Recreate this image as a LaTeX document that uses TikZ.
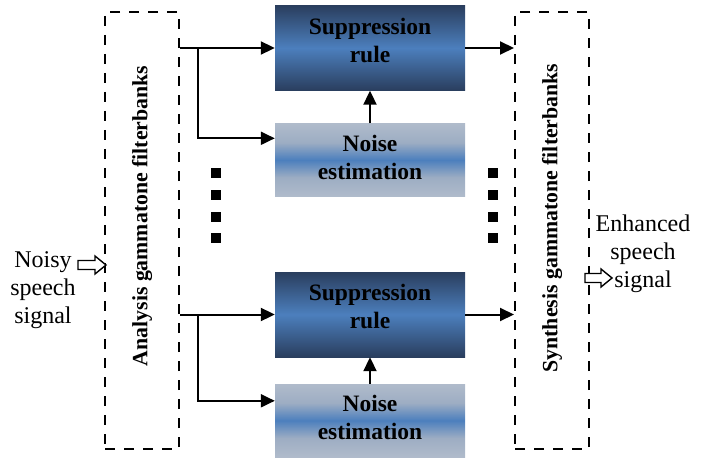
\documentclass[tikz,border=0pt]{standalone}
\usepackage{fontspec}
\setmainfont{Liberation Serif}
\usetikzlibrary{arrows.meta}
\definecolor{supdark}{HTML}{2A3E5E}
\definecolor{supmid}{HTML}{4C7FBD}
\definecolor{noiseedge}{HTML}{B0BBCB}
\definecolor{noisemid}{HTML}{9DADC3}
\pgfdeclareverticalshading{noiseshade}{100bp}{color(0bp)=(noiseedge); color(25bp)=(noiseedge); color(38bp)=(noisemid); color(50bp)=(supmid); color(62bp)=(noisemid); color(75bp)=(noiseedge); color(100bp)=(noiseedge)}
\tikzset{
  txt/.style={font=\fontsize{24}{28}\selectfont, align=center, inner sep=0pt},
  btxt/.style={font=\fontsize{23.5}{28}\selectfont\bfseries, align=center, inner sep=0pt},
  vtxt/.style={font=\fontsize{21.8}{26}\selectfont\bfseries, inner sep=0pt, rotate=90},
  suppbox/.style={minimum width=190pt, minimum height=85pt, inner sep=0pt,
    top color=supdark, bottom color=supdark, middle color=supmid},
  noisebox/.style={minimum width=190pt, minimum height=73pt, inner sep=0pt,
    shading=noiseshade},
  fbank/.style={draw, line width=2pt, dash pattern=on 10pt off 9pt,
    minimum width=74pt, minimum height=437pt, inner sep=0pt},
  conn/.style={line width=2pt, -{Triangle[length=14pt,width=13pt]}},
  hollowp/.style={draw, fill=white, line width=1.4pt, line join=miter},
  dotsq/.style={fill=black, minimum size=10pt, inner sep=0pt}
}
\begin{document}
\begin{tikzpicture}[x=1pt,y=-1pt]
\useasboundingbox (0,0) rectangle (708,457);
% filterbanks
\node[fbank] (ana) at (142,230.5) {};
\node[fbank] (syn) at (552,230.5) {};
\node[vtxt] (analab) at (142,216) {Analysis gammatone filterbanks};
\node[vtxt] (synlab) at (552,218) {Synthesis gammatone filterbanks};
% processing boxes
\node[suppbox] (sup1) at (370,48) {};
\node[btxt] (sup1t) at ([yshift=8pt]sup1.center) {Suppression\\rule};
\node[noisebox] (noi1) at (370,160) {};
\node[btxt] (noi1t) at ([yshift=3pt]noi1.center) {Noise\\estimation};
\node[suppbox] (sup2) at (370,314.5) {};
\node[btxt] (sup2t) at ([yshift=8pt]sup2.center) {Suppression\\rule};
\node[noisebox] (noi2) at (370,420.5) {};
\node[btxt] (noi2t) at ([yshift=3pt]noi2.center) {Noise\\estimation};
% branch points
\coordinate (b1) at (198,48);
\coordinate (b2) at (198,314.5);
% connectors
\draw[conn] (ana.east |- sup1.west) -- (sup1.west);
\draw[conn] (b1) |- ([yshift=-15pt]noi1.north west);
\draw[conn] (noi1.north) -- (sup1.south);
\draw[conn] (sup1.east) -- (syn.west |- sup1.east);
\draw[conn] (ana.east |- sup2.west) -- (sup2.west);
\draw[conn] (b2) |- ([yshift=-17pt]noi2.north west);
\draw[conn] (noi2.north) -- (sup2.south);
\draw[conn] (sup2.east) -- (syn.west |- sup2.east);
% dots
\foreach \i/\yy in {1/173,2/195,3/217,4/238}{
  \node[dotsq] (dl\i) at (216,\yy) {};
  \node[dotsq] (dr\i) at (493,\yy) {};
}
% input / output
\node[txt] (inlab) at (43,290) {Noisy\\speech\\signal};
\coordinate (inarr) at (92,265);
\draw[hollowp] (inarr) ++(-14,-4.5) -- ++(17,0) -- ++(0,-4.5) -- ++(11,9)
  -- ++(-11,9) -- ++(0,-4.5) -- ++(-17,0) -- cycle;
\node[txt] (outlab) at (643,254) {Enhanced\\speech\\signal};
\coordinate (outarr) at (598,278);
\draw[hollowp] (outarr) ++(-13,-4.5) -- ++(16,0) -- ++(0,-4.5) -- ++(11,9)
  -- ++(-11,9) -- ++(0,-4.5) -- ++(-16,0) -- cycle;
\end{tikzpicture}
\end{document}
